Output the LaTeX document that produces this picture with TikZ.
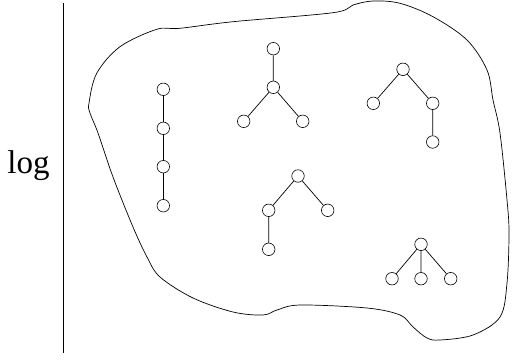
\documentclass[tikz,border=0pt]{standalone}
\usepackage{fontspec}
\setmainfont{Liberation Serif}
\begin{document}
\begin{tikzpicture}[x=1pt,y=-1pt,
  vtx/.style={circle,draw,line width=0.6pt,minimum size=12.5pt,inner sep=0pt},
  edge/.style={line width=0.7pt},
  blob/.style={line width=0.7pt}]
\useasboundingbox (0,0) rectangle (518,359);
\draw[line width=1pt] (63,3) -- (63,353);
\node[font=\fontsize{33}{33}\selectfont,inner sep=0pt] (log) at (28.5,166) {log};
\draw[blob] plot[smooth cycle,tension=0.55] coordinates {
 (89,103) (96.7,73.3) (120,46.7) (156.7,29.3) (180,28.3) (233,21.7) (333,12.7)
 (353,5) (373,1) (400,3.3) (433,16.7) (467,40) (487,70) (493,100) (500,133)
 (507,200) (509,233) (507,283) (500,317) (473,335) (440,340) (427,338) (413,327)
 (400,315) (367,308) (300,305) (277,310) (263,315) (233,312) (193,298) (160,277)
 (147,257) (133,227) (113,177) (98,133) (90,113)};
% chain
\node[vtx] (a1) at (163.3,89.3) {};
\node[vtx] (a2) at (163.3,128.3) {};
\node[vtx] (a3) at (163.3,166.7) {};
\node[vtx] (a4) at (163.3,205.7) {};
\draw[edge] (a1)--(a2) (a2)--(a3) (a3)--(a4);
% tree 2
\node[vtx] (b1) at (273.3,48.7) {};
\node[vtx] (b2) at (273.3,87.3) {};
\node[vtx] (b3) at (243.7,121.3) {};
\node[vtx] (b4) at (302.7,121.3) {};
\draw[edge] (b1)--(b2) (b2)--(b3) (b2)--(b4);
% tree 3
\node[vtx] (c1) at (403,69.3) {};
\node[vtx] (c2) at (373.3,103.3) {};
\node[vtx] (c3) at (432.7,103.3) {};
\node[vtx] (c4) at (432.7,142) {};
\draw[edge] (c1)--(c2) (c1)--(c3) (c3)--(c4);
% tree 4
\node[vtx] (d1) at (298,176) {};
\node[vtx] (d2) at (268.7,210.3) {};
\node[vtx] (d3) at (327.7,210.3) {};
\node[vtx] (d4) at (268.7,249.3) {};
\draw[edge] (d1)--(d2) (d1)--(d3) (d2)--(d4);
% tree 5
\node[vtx] (e1) at (421,244.3) {};
\node[vtx] (e2) at (392,278.7) {};
\node[vtx] (e3) at (421,278.7) {};
\node[vtx] (e4) at (450.7,278.7) {};
\draw[edge] (e1)--(e2) (e1)--(e3) (e1)--(e4);
\end{tikzpicture}
\end{document}
